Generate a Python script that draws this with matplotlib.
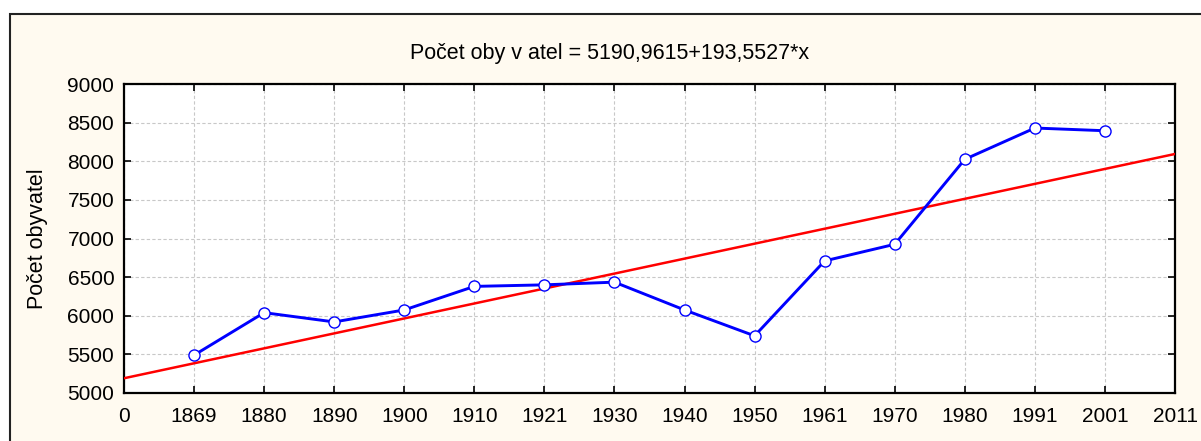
import numpy as np
import matplotlib.pyplot as plt
from matplotlib.patches import Rectangle

# Data
years = ["0", "1869", "1880", "1890", "1900", "1910", "1921", "1930",
         "1940", "1950", "1961", "1970", "1980", "1991", "2001", "2011"]
population = [5490, 6040, 5920, 6075, 6380, 6400, 6435,
              6075, 5740, 6710, 6925, 8025, 8430, 8395]
intercept = 5190.9615
slope = 193.5527

plt.rcParams["font.family"] = ["Liberation Sans", "DejaVu Sans"]
bg = "#fffaf0"

fig = plt.figure(figsize=(12.01, 4.41), dpi=100, facecolor="white")
# outer frame (cut off on the right and bottom, as in the source)
fig.patches.append(Rectangle((10 / 1201, -0.1), 1.2, 1 - 14 / 441 + 0.1,
                             transform=fig.transFigure, facecolor=bg,
                             edgecolor="#222222", linewidth=1.5, zorder=-5))

ax = fig.add_axes([124 / 1201, 1 - 393 / 441, (1175 - 124) / 1201, (393 - 84) / 441])
ax.set_facecolor("white")

x_pts = np.arange(1, len(population) + 1)
x_fit = np.array([0, len(years) - 1])
ax.plot(x_fit, intercept + slope * x_fit, color="red", linewidth=1.8, zorder=3)
ax.plot(x_pts, population, color="blue", linewidth=2.1, marker="o",
        markersize=8, markerfacecolor="white", markeredgecolor="blue",
        markeredgewidth=1.0, zorder=4)

ax.set_xlim(0, len(years) - 1)
ax.set_ylim(5000, 9000)
ax.set_xticks(range(len(years)))
ax.set_xticklabels(years)
ax.set_yticks(range(5000, 9001, 500))
ax.tick_params(direction="in", top=True, right=True, labelsize=15,
               length=5, width=1.2, pad=7)
ax.tick_params(axis="x", pad=10)
ax.grid(True, color="#c8c8c8", linestyle=(0, (3, 2)), linewidth=0.8)
for s in ax.spines.values():
    s.set_linewidth(1.6)

ax.set_ylabel("Počet obyvatel", fontsize=15.5, labelpad=14)
fig.text(610 / 1201, 1 - 53 / 441, "Počet oby v atel = 5190,9615+193,5527*x",
         ha="center", va="center", fontsize=15.5)

fig.savefig("out.png", dpi=100, facecolor="white")
